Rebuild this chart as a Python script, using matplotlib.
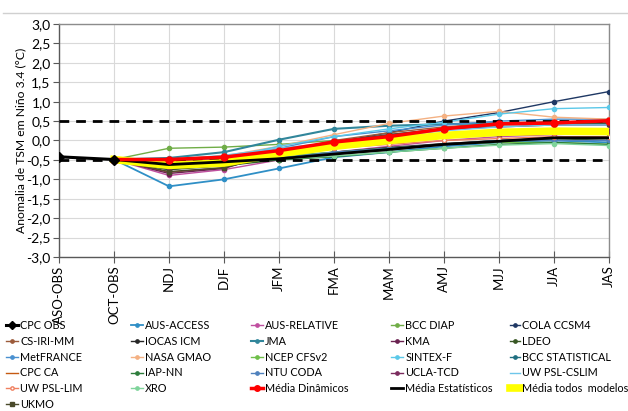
import matplotlib
matplotlib.use("Agg")
import matplotlib.pyplot as plt
from matplotlib.lines import Line2D
import numpy as np

plt.rcParams['font.family'] = ['Lato', 'DejaVu Sans']

categories = ["ASO-OBS", "OCT-OBS", "NDJ", "DJF", "JFM", "FMA", "MAM", "AMJ", "MJJ", "JJA", "JAS"]

# observed (ASO-OBS, OCT-OBS)
cpc_obs = [-0.42, -0.49]

# model forecasts: OCT-OBS ... JAS
aus_access   = [-0.49, -1.18, -1.00, -0.72, -0.43, -0.30, -0.15, -0.05, 0.00, -0.05]
aus_relative = [-0.49, -0.90, -0.75, -0.50, -0.30, -0.15, 0.00, 0.10, 0.15, 0.20]
bcc_diap     = [-0.49, -0.20, -0.17, -0.10, 0.00, 0.10, 0.15, 0.20, 0.20, 0.18]
cola_ccsm4   = [-0.49, -0.75, -0.60, -0.35, -0.05, 0.20, 0.50, 0.72, 1.00, 1.26]
cs_iri_mm    = [-0.49, -0.82, -0.70, -0.30, 0.00, 0.20, 0.35, 0.45, 0.48, 0.50]
iocas_icm    = [-0.49, -0.70, -0.62, -0.45, -0.30, -0.18, -0.08, 0.00, 0.05, 0.05]
jma          = [-0.49, -0.45, -0.30, 0.02, 0.30, 0.38, 0.42, 0.45, 0.45, 0.45]
kma          = [-0.49, -0.85, -0.72, -0.30, -0.05, 0.15, 0.30, 0.35, 0.40, 0.40]
ldeo         = [-0.49, -0.75, -0.65, -0.50, -0.35, -0.25, -0.10, 0.00, 0.05, 0.00]
metfrance    = [-0.49, -0.55, -0.45, -0.20, 0.10, 0.25, 0.40, 0.50, 0.55, 0.55]
nasa_gmao    = [-0.49, -0.50, -0.40, -0.15, 0.15, 0.44, 0.63, 0.75, 0.60, 0.55]
ncep_cfsv2   = [-0.49, -0.60, -0.50, -0.40, -0.30, -0.20, -0.10, -0.05, -0.05, -0.10]
sintex_f     = [-0.49, -0.60, -0.45, -0.15, 0.10, 0.30, 0.47, 0.68, 0.82, 0.85]
bcc_stat     = [-0.49, -0.65, -0.55, -0.45, -0.35, -0.22, -0.10, 0.00, 0.05, 0.10]
cpc_ca       = [-0.49, -0.55, -0.50, -0.30, -0.10, 0.05, 0.15, 0.25, 0.30, 0.30]
iap_nn       = [-0.49, -0.70, -0.60, -0.50, -0.42, -0.30, -0.20, -0.10, -0.05, -0.10]
ntu_coda     = [-0.49, -0.60, -0.55, -0.45, -0.30, -0.20, -0.10, 0.00, 0.00, 0.00]
ucla_tcd     = [-0.49, -0.72, -0.60, -0.35, -0.15, 0.00, 0.10, 0.15, 0.20, 0.25]
uw_psl_cslim = [-0.49, -0.50, -0.38, -0.20, -0.05, 0.10, 0.25, 0.35, 0.40, 0.40]
uw_psl_lim   = [-0.49, -0.48, -0.40, -0.30, -0.20, -0.10, 0.00, 0.05, 0.10, 0.10]
xro          = [-0.49, -0.60, -0.58, -0.48, -0.40, -0.30, -0.20, -0.12, -0.08, -0.13]
ukmo         = [-0.49, -0.80, -0.70, -0.35, -0.05, 0.15, 0.30, 0.40, 0.45, 0.45]
media_din    = [-0.49, -0.49, -0.43, -0.26, -0.04, 0.10, 0.30, 0.43, 0.45, 0.51]
media_est    = [-0.49, -0.62, -0.55, -0.47, -0.35, -0.23, -0.10, -0.02, 0.07, 0.07]
media_todos  = [-0.49, -0.64, -0.58, -0.34, -0.15, 0.00, 0.13, 0.21, 0.24, 0.23]

y_ticks = [-3.0, -2.5, -2.0, -1.5, -1.0, -0.5, 0.0, 0.5, 1.0, 1.5, 2.0, 2.5, 3.0]

fig = plt.figure(figsize=(6.28, 4.11), dpi=100)
ax = fig.add_axes([59/628, 1-257/411, 550/628, 233/411])

x_all = np.arange(len(categories))
x_mod = x_all[1:]

handles = {}

def model(name, data, color, marker='o', ms=3, lw=1.0, mfc=None, z=3):
    ln, = ax.plot(x_mod, data, color=color, lw=lw, marker=marker, ms=ms,
                  mfc=mfc if mfc is not None else color, mec=color, zorder=z)
    handles[name] = ln

model("AUS-ACCESS", aus_access, "#2f8fc6", lw=1.3)
model("AUS-RELATIVE", aus_relative, "#c04fa0")
model("BCC DIAP", bcc_diap, "#70ad47")
model("COLA CCSM4", cola_ccsm4, "#1f3864")
model("CS-IRI-MM", cs_iri_mm, "#9c5b3a")
model("IOCAS ICM", iocas_icm, "#262626")
model("JMA", jma, "#31869b", lw=1.5)
model("KMA", kma, "#6a2150")
model("LDEO", ldeo, "#375623")
model("MetFRANCE", metfrance, "#4a90d0")
model("NASA GMAO", nasa_gmao, "#f4b183")
model("NCEP CFSv2", ncep_cfsv2, "#6fbf4a")
model("SINTEX-F", sintex_f, "#5bc8e8")
model("BCC STATISTICAL", bcc_stat, "#1f6f80")
model("CPC CA", cpc_ca, "#c55a11", marker=None)
model("IAP-NN", iap_nn, "#2e7d3c")
model("NTU CODA", ntu_coda, "#4f81bd")
model("UCLA-TCD", ucla_tcd, "#7b2c5e")
model("UW PSL-CSLIM", uw_psl_cslim, "#6ec6ea", marker=None)
model("UW PSL-LIM", uw_psl_lim, "#f08060", mfc="white")
model("XRO", xro, "#7fd49b")
model("UKMO", ukmo, "#4a4a2a", marker='s')

model("Média todos  modelos", media_todos, "#ffff00", marker=None, lw=5.5, z=5)
model("Média Estatísticos", media_est, "#000000", marker=None, lw=2.0, z=6)
model("Média Dinâmicos", media_din, "#ff0000", marker='o', ms=5, lw=2.5, z=7)

ln, = ax.plot(x_all[:2], cpc_obs, color="black", lw=2.2, marker='D', ms=5, zorder=8)
handles["CPC OBS"] = ln

ax.axhline(0.5, color="black", lw=2, ls=(0, (3.5, 2.5)), zorder=4)
ax.axhline(-0.5, color="black", lw=2, ls=(0, (3.5, 2.5)), zorder=4)

ax.set_xlim(0, len(categories) - 1)
ax.set_ylim(-3.0, 3.0)
ax.set_yticks(y_ticks)
ax.set_yticklabels([f"{v:.1f}".replace(".", ",") for v in y_ticks], fontsize=10)
ax.set_xticks(x_all)
ax.set_xticklabels(categories, rotation=90, fontsize=9.5)
ax.grid(True, color="#d9d9d9", lw=0.8, zorder=0)
ax.set_axisbelow(True)
ax.tick_params(axis='x', direction='inout', length=8, color="#595959", pad=2)
ax.tick_params(axis='y', direction='out', length=4, color="#595959", pad=2)
for s in ["left", "bottom"]:
    ax.spines[s].set_color("#595959")
    ax.spines[s].set_linewidth(1.0)
for s in ["top", "right"]:
    ax.spines[s].set_color("#8c8c8c")
    ax.spines[s].set_linewidth(1.0)
ax.set_ylabel("Anomalia de TSM em Niño 3.4 (°C)", fontsize=8.7)
ax.yaxis.set_label_coords((26 - 59) / 550, 0.5)

fig.add_artist(Line2D([3/628, 1.0], [1-13/411, 1-13/411], color="#d0d0d0", lw=1))

columns = [
    ["CPC OBS", "CS-IRI-MM", "MetFRANCE", "CPC CA", "UW PSL-LIM", "UKMO"],
    ["AUS-ACCESS", "IOCAS ICM", "NASA GMAO", "IAP-NN", "XRO"],
    ["AUS-RELATIVE", "JMA", "NCEP CFSv2", "NTU CODA", "Média Dinâmicos"],
    ["BCC DIAP", "KMA", "SINTEX-F", "UCLA-TCD", "Média Estatísticos"],
    ["COLA CCSM4", "LDEO", "BCC STATISTICAL", "UW PSL-CSLIM", "Média todos  modelos"],
]
col_x = [6, 131, 251, 391, 510]
col_hl = [1.1, 1.1, 1.1, 1.1, 0.9]
for cx, hl, names in zip(col_x, col_hl, columns):
    leg = fig.legend([handles[n] for n in names], names, loc="upper left",
                     bbox_to_anchor=(cx/628, 1-320/411), frameon=False,
                     prop={'size': 7.8},
                     handlelength=hl, handletextpad=0.2,
                     labelspacing=0.44, borderpad=0, borderaxespad=0,
                     markerscale=0.8)

fig.savefig("out.png", dpi=100)
